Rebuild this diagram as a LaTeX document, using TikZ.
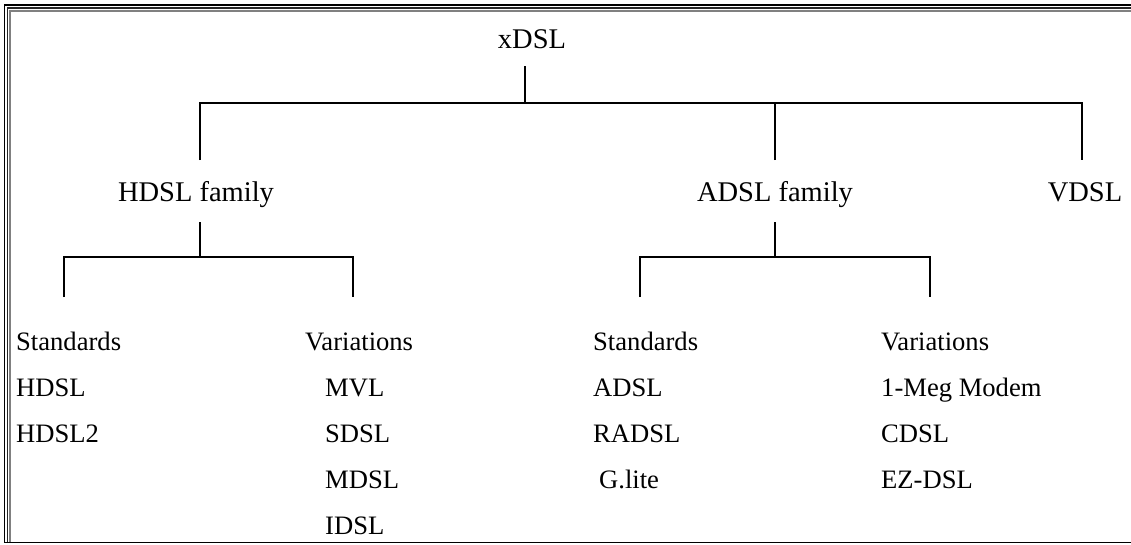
\documentclass[tikz,border=0pt]{standalone}
\usepackage{fontspec}
\setmainfont{Liberation Serif}
\begin{document}
\begin{tikzpicture}[x=1pt,y=-1pt,
  head/.style={inner sep=0pt, anchor=base, font=\fontsize{28.5}{32}\selectfont},
  item/.style={inner sep=0pt, anchor=base west, font=\fontsize{26.6}{30}\selectfont},
  link/.style={line width=1.5pt, black},
  rule/.style={line width=#1, line cap=rect}]
\useasboundingbox (0,0) rectangle (1131,544);

% frame: layered rules on top and left, single rule at the bottom
\draw[rule=1.6pt, black] (4.5,542) -- (4.5,5) -- (1131,5);
\draw[rule=1.2pt, black!85] (7.5,542) -- (7.5,8) -- (1131,8);
\draw[rule=2pt, black!50] (10.2,542) -- (10.2,10.5) -- (1131,10.5);
\draw[line width=1.6pt, black] (4,542.5) -- (1131,542.5);

% top level
\node[head] (xdsl) at (532,48) {xDSL};
\node[head] (hfam) at (196,201) {HDSL family};
\node[head] (afam) at (775,201) {ADSL family};
\node[head] (vdsl) at (1085,201) {VDSL};

\coordinate (xstem) at (525,66);
\coordinate (xbar) at (525,103);
\coordinate (htop) at (200,160);
\coordinate (atop) at (775,160);
\coordinate (vtop) at (1082,160);

\draw[link] (xstem) -- (xbar);
\draw[link] (htop) |- (xbar) -| (vtop);
\draw[link] (atop) -- (atop |- xbar);

% HDSL branch
\coordinate (hstem) at (200,222);
\coordinate (hbar) at (200,257);
\coordinate (hstd) at (64,297);
\coordinate (hvar) at (353,297);
\draw[link] (hstem) -- (hbar);
\draw[link] (hstd) |- (hbar) -| (hvar);

% ADSL branch
\coordinate (astem) at (775,222);
\coordinate (abar) at (775,257);
\coordinate (astd) at (640,297);
\coordinate (avar) at (930,297);
\draw[link] (astem) -- (abar);
\draw[link] (astd) |- (abar) -| (avar);

% HDSL lists
\node[item] (hs0) at (16,350) {Standards};
\node[item] (hs1) at (16,396) {HDSL};
\node[item] (hs2) at (16,442) {HDSL2};

\node[item] (hv0) at (305,350) {Variations};
\node[item] (hv1) at (325,396) {MVL};
\node[item] (hv2) at (325,442) {SDSL};
\node[item] (hv3) at (325,488) {MDSL};
\node[item] (hv4) at (325,534) {IDSL};

% ADSL lists
\node[item] (as0) at (593,350) {Standards};
\node[item] (as1) at (593,396) {ADSL};
\node[item] (as2) at (593,442) {RADSL};
\node[item] (as3) at (599,488) {G.lite};

\node[item] (av0) at (881,350) {Variations};
\node[item] (av1) at (881,396) {1-Meg Modem};
\node[item] (av2) at (881,442) {CDSL};
\node[item] (av3) at (881,488) {EZ-DSL};
\end{tikzpicture}
\end{document}
